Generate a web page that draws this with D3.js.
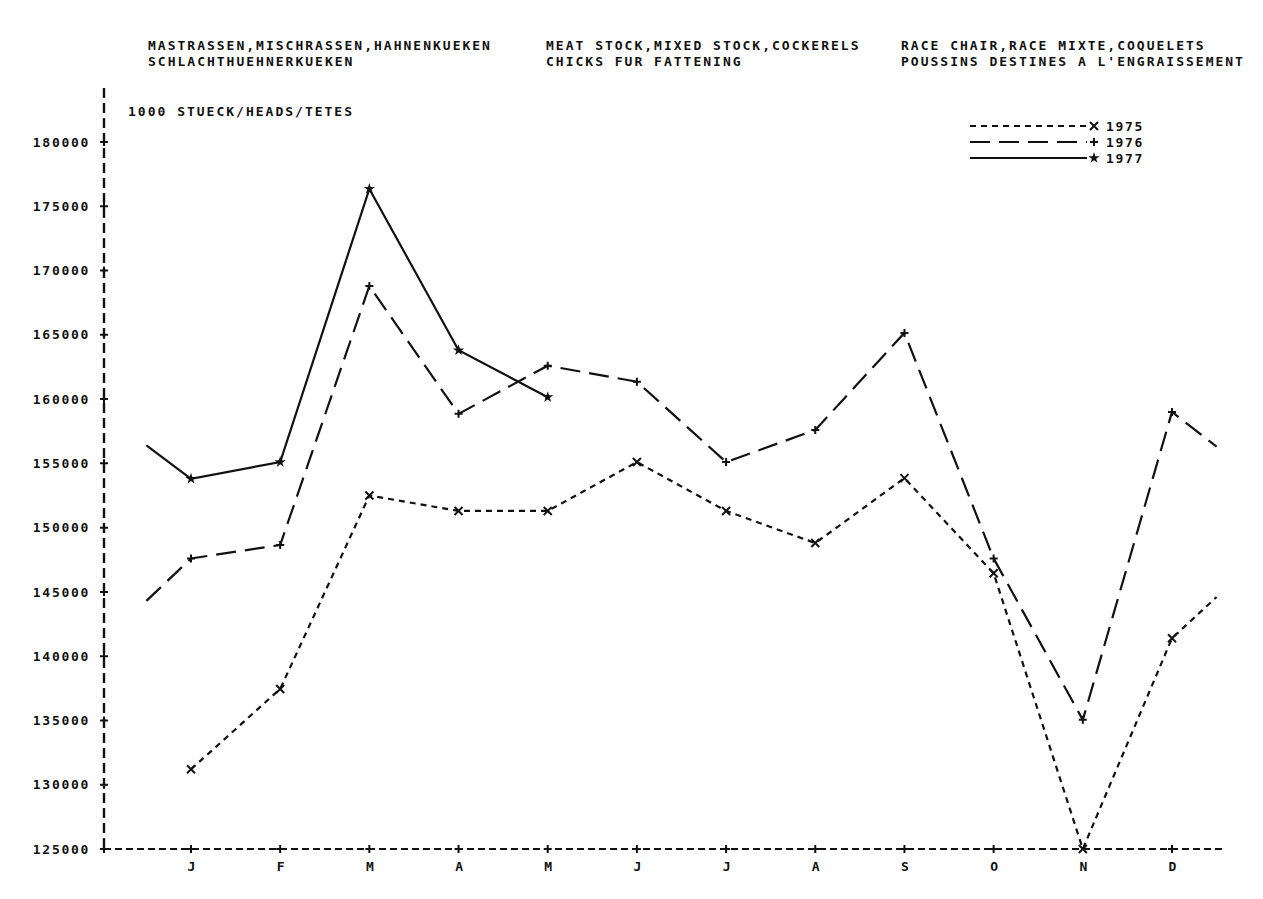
<!DOCTYPE html>
<html>
<head>
<meta charset="utf-8">
<script src="https://cdn.jsdelivr.net/npm/d3@7/dist/d3.min.js"></script>
<style>
  body { margin: 0; background: #fff; }
  svg text { font-family: "DejaVu Sans Mono", monospace; font-weight: bold; fill: #111; }
</style>
</head>
<body>
<div id="chart"></div>
<script>
const months = ['J', 'F', 'M', 'A', 'M', 'J', 'J', 'A', 'S', 'O', 'N', 'D'];
const yTicks = [125000, 130000, 135000, 140000, 145000, 150000, 155000, 160000, 165000, 170000, 175000, 180000];

// monthly values, 1000 head
const values1975 = [131200, 137450, 152500, 151300, 151300, 155100, 151300, 148800, 153850, 146450, 125000, 141400];
const values1976 = [147600, 148650, 168800, 158850, 162600, 161350, 155100, 157600, 165150, 147600, 135050, 159000];
const values1977 = [153800, 155100, 176350, 163800, 160150];
// half-month lead-in / run-out values at the chart edges
const lead1976 = 144300, tail1975 = 144600;
const lead1977 = 156400, tail1976 = 156300;

const titles = [
  ['MASTRASSEN,MISCHRASSEN,HAHNENKUEKEN', 'SCHLACHTHUEHNERKUEKEN'],
  ['MEAT STOCK,MIXED STOCK,COCKERELS', 'CHICKS FUR FATTENING'],
  ['RACE CHAIR,RACE MIXTE,COQUELETS', "POUSSINS DESTINES A L'ENGRAISSEMENT"]
];

const W = 1263, H = 899;
const svg = d3.select('#chart').append('svg').attr('width', W).attr('height', H);

const x = d3.scaleLinear().domain([1, 12]).range([191, 1172]);
const y = d3.scaleLinear().domain([125000, 180000]).range([849, 142]);
const axisX = 104;

// titles
const titleX = [148, 546, 901];
titles.forEach((lines, i) => {
  lines.forEach((t, j) => {
    svg.append('text')
      .attr('x', titleX[i]).attr('y', 50 + j * 16)
      .style('font-size', '13px').style('letter-spacing', '2px')
      .text(t);
  });
});

svg.append('text').attr('x', 128).attr('y', 116)
  .style('font-size', '13px').style('letter-spacing', '2px')
  .text('1000 STUECK/HEADS/TETES');

// axes (dashed, printer style)
svg.append('line')
  .attr('x1', axisX).attr('x2', axisX).attr('y1', 88).attr('y2', y(125000))
  .attr('stroke', '#111').attr('stroke-width', 2.4).attr('stroke-dasharray', '10,5');
svg.append('line')
  .attr('x1', axisX).attr('x2', 1226).attr('y1', y(125000)).attr('y2', y(125000))
  .attr('stroke', '#111').attr('stroke-width', 2).attr('stroke-dasharray', '7,4');

const yAxis = svg.append('g')
  .attr('transform', `translate(${axisX},0)`)
  .call(d3.axisLeft(y).tickValues(yTicks).tickSize(0).tickPadding(14).tickFormat(d3.format('d')));
yAxis.select('.domain').remove();
yAxis.selectAll('text').style('font-size', '13px').style('letter-spacing', '1.7px')
  .style('font-family', '"DejaVu Sans Mono", monospace').style('font-weight', 'bold');

const xAxis = svg.append('g')
  .attr('transform', `translate(0,${y(125000)})`)
  .call(d3.axisBottom(x).tickValues(d3.range(1, 13)).tickSize(0).tickPadding(13)
    .tickFormat(d => months[d - 1]));
xAxis.select('.domain').remove();
xAxis.selectAll('text').style('font-size', '13px')
  .style('font-family', '"DejaVu Sans Mono", monospace').style('font-weight', 'bold');

function plus(g, px, py, r) {
  g.append('path')
    .attr('d', `M${px - r},${py}H${px + r}M${px},${py - r}V${py + r}`)
    .attr('stroke', '#111').attr('stroke-width', 2).attr('fill', 'none');
}
function cross(g, px, py, r) {
  g.append('path')
    .attr('d', `M${px - r},${py - r}L${px + r},${py + r}M${px + r},${py - r}L${px - r},${py + r}`)
    .attr('stroke', '#111').attr('stroke-width', 2).attr('fill', 'none');
}
function star(g, px, py) {
  g.append('path')
    .attr('d', d3.symbol().type(d3.symbolStar).size(40)())
    .attr('transform', `translate(${px},${py})`)
    .attr('fill', '#111');
}

const ticks = svg.append('g');
yTicks.forEach(v => plus(ticks, axisX, y(v), 4));
d3.range(1, 13).forEach(i => { if (i !== 11) plus(ticks, x(i), y(125000), 4); });
plus(ticks, axisX, y(125000), 4);

// series
const series = [
  { pts: values1975.map((v, i) => [i + 1, v]).concat([[12.5, tail1975]]), dash: '6,5', mark: 'x' },
  { pts: [[0.5, lead1976]].concat(values1976.map((v, i) => [i + 1, v]), [[12.5, tail1976]]), dash: '20,9', mark: '+' },
  { pts: [[0.5, lead1977]].concat(values1977.map((v, i) => [i + 1, v])), dash: null, mark: '*' }
];

const line = d3.line().x(d => x(d[0])).y(d => y(d[1]));
const marks = svg.append('g');
series.forEach(s => {
  svg.append('path')
    .datum(s.pts)
    .attr('d', line)
    .attr('fill', 'none')
    .attr('stroke', '#111')
    .attr('stroke-width', 2.2)
    .attr('stroke-dasharray', s.dash);
  s.pts.filter(p => Number.isInteger(p[0])).forEach(p => {
    const px = x(p[0]), py = y(p[1]);
    if (s.mark === 'x') cross(marks, px, py, 4);
    else if (s.mark === '+') plus(marks, px, py, 4);
    else star(marks, px, py);
  });
});

// legend
const legend = svg.append('g');
const legendRows = [
  { label: '1975', dash: '6,5', mark: 'x' },
  { label: '1976', dash: '20,9', mark: '+' },
  { label: '1977', dash: null, mark: '*' }
];
legendRows.forEach((r, i) => {
  const ly = 126 + i * 16;
  legend.append('line')
    .attr('x1', 970).attr('x2', 1087).attr('y1', ly).attr('y2', ly)
    .attr('stroke', '#111').attr('stroke-width', 2).attr('stroke-dasharray', r.dash);
  if (r.mark === 'x') cross(legend, 1094, ly, 4);
  else if (r.mark === '+') plus(legend, 1094, ly, 4);
  else star(legend, 1094, ly);
  legend.append('text').attr('x', 1106).attr('y', ly + 5)
    .style('font-size', '13px').style('letter-spacing', '1.7px')
    .text(r.label);
});
</script>
</body>
</html>
